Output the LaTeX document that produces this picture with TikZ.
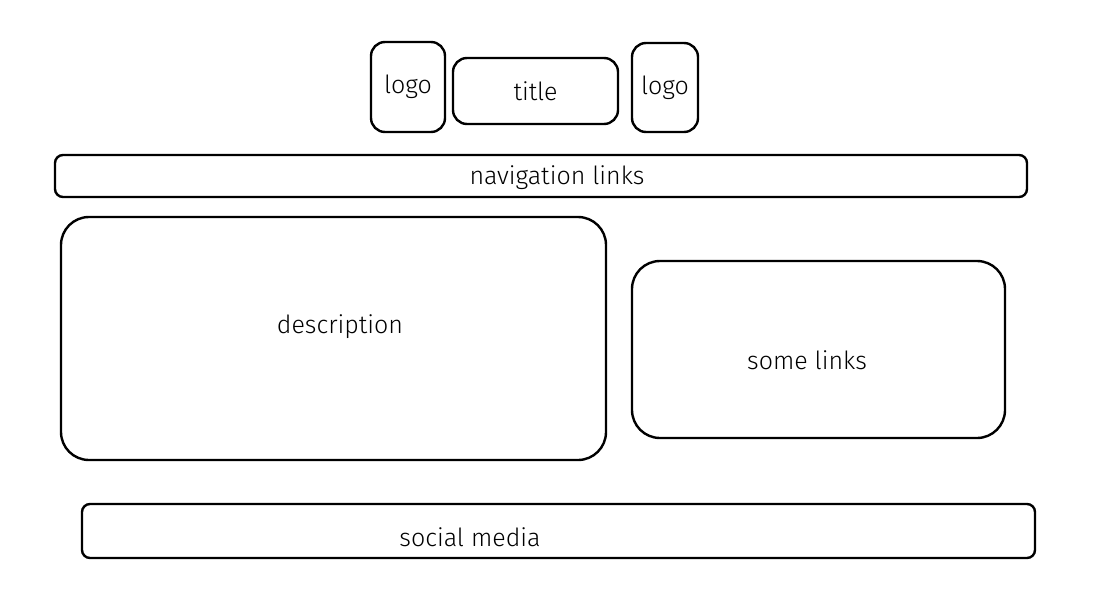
\documentclass[tikz,border=0pt]{standalone}
\usepackage{fontspec}
\setmainfont{Fira Sans Light}
\usetikzlibrary{positioning}

\begin{document}
\begin{tikzpicture}[
    x=1pt, y=-1pt,
    every node/.style={
        inner sep=0pt,
        font=\fontsize{25}{28}\selectfont
    },
    panel/.style={
        draw, line width=2.4pt,
        rounded corners=14pt
    },
    bar/.style={
        draw, line width=2.4pt,
        rounded corners=8pt
    }
]
\useasboundingbox (0,0) rectangle (1105,610);
\node[panel, minimum width=74pt, minimum height=90pt] (logoL) at (408,87) {logo};
\node[panel, minimum width=165pt, minimum height=66pt] (title) at (535.5,91) {title};
\node[panel, minimum width=66pt, minimum height=89pt] (logoR) at (665,87.5) {logo};
\node[bar, minimum width=972pt, minimum height=42pt] (nav) at (541,176) {};
\node (navtext) at (557,178) {navigation links};
\node[panel, rounded corners=28pt, minimum width=545pt, minimum height=243pt] (desc) at (333.5,338.5) {};
\node (desctext) at (340,327) {description};
\node[panel, rounded corners=28pt, minimum width=373pt, minimum height=177pt] (links) at (818.5,349.5) {};
\node (linkstext) at (807,360) {some links};
\node[bar, minimum width=953pt, minimum height=54pt] (social) at (558.5,531) {};
\node (socialtext) at (470,537) {social media};
\end{tikzpicture}
\end{document}
